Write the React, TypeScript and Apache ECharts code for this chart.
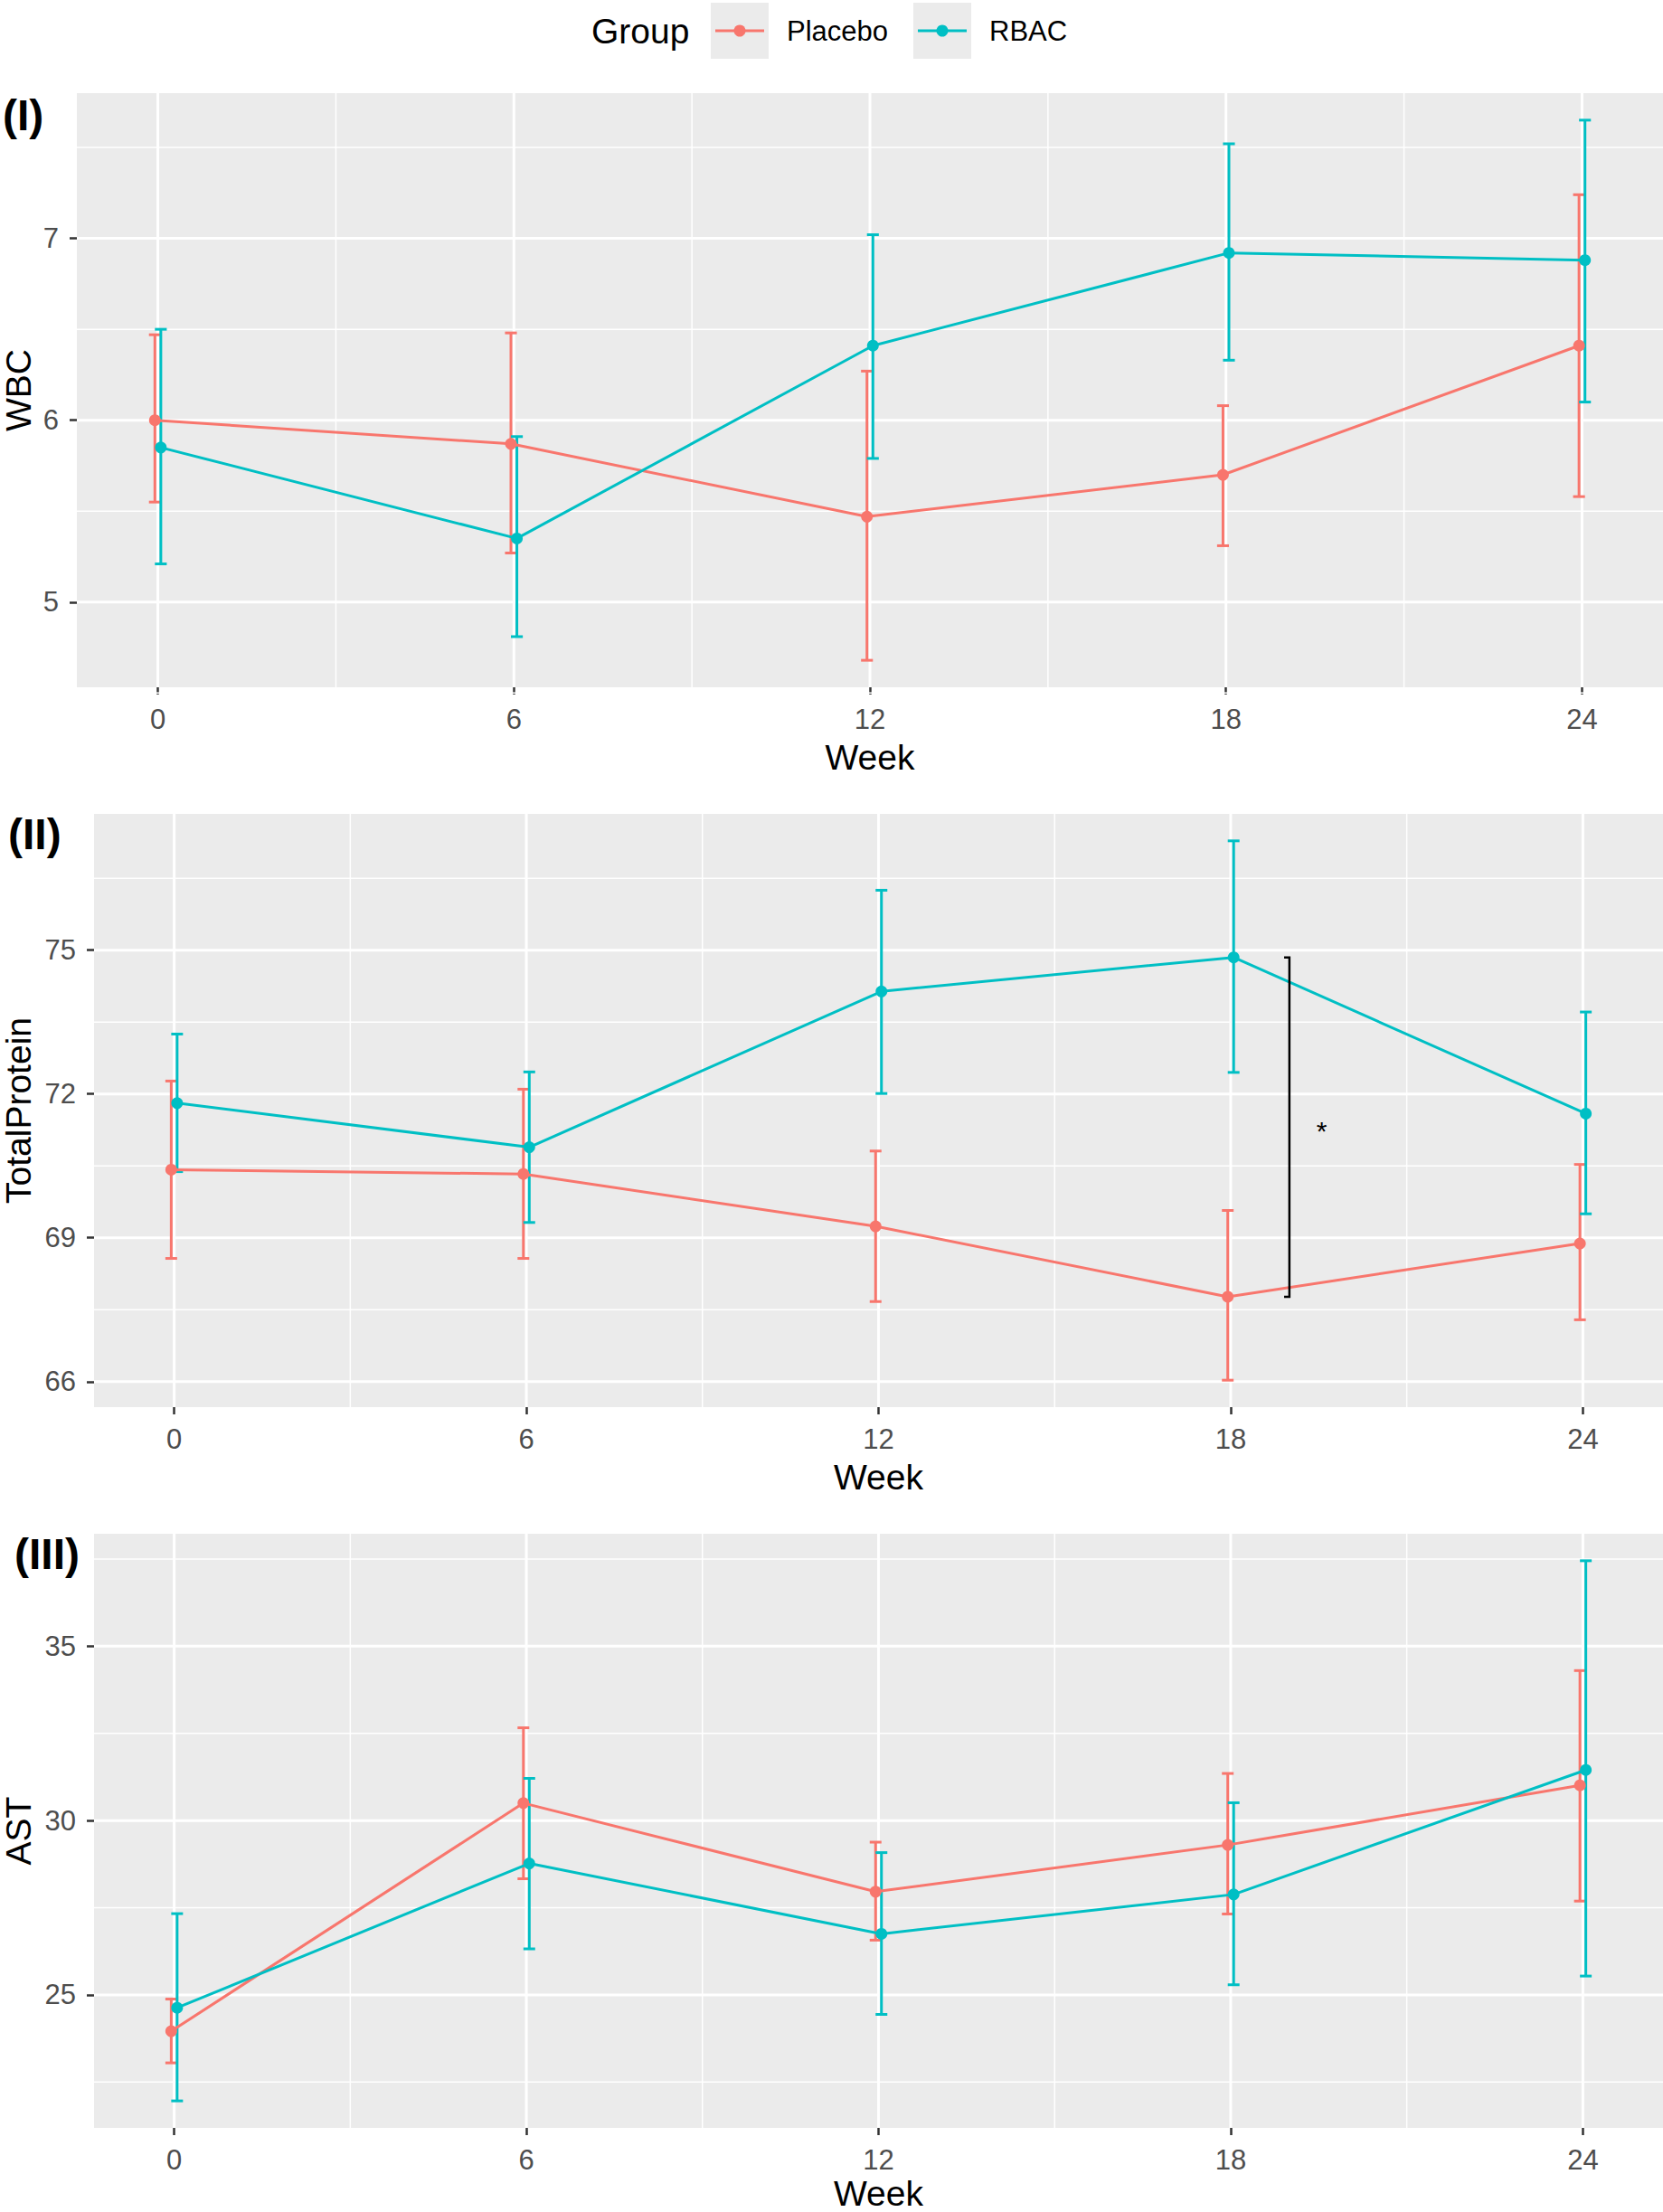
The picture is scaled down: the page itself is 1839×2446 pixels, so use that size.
import React, { useEffect, useRef } from "react";
import * as echarts from "echarts";

const FONT = "'Liberation Sans', Arial, Helvetica, sans-serif";

const weeks = [0, 6, 12, 18, 24];
const minorWeeks = [3, 9, 15, 21];
const groupNames = ["Placebo", "RBAC"];
const groupColors = ["#F8766D", "#00BFC4"];
const dodge = [-0.05, 0.05];
const capHalf = 0.1;

// Panel I: WBC
const wbcPlaceboMean = [6.0, 5.87, 5.47, 5.7, 6.41];
const wbcPlaceboLow = [5.55, 5.27, 4.68, 5.31, 5.58];
const wbcPlaceboHigh = [6.47, 6.48, 6.27, 6.08, 7.24];
const wbcRbacMean = [5.85, 5.35, 6.41, 6.92, 6.88];
const wbcRbacLow = [5.21, 4.81, 5.79, 6.33, 6.1];
const wbcRbacHigh = [6.5, 5.91, 7.02, 7.52, 7.65];
const wbcTicks = [5, 6, 7];
const wbcMinor = [4.5, 5.5, 6.5, 7.5];

// Panel II: TotalProtein
const tpPlaceboMean = [70.42, 70.33, 69.24, 67.77, 68.88];
const tpPlaceboLow = [68.57, 68.57, 67.67, 66.03, 67.29];
const tpPlaceboHigh = [72.27, 72.1, 70.81, 69.57, 70.53];
const tpRbacMean = [71.81, 70.89, 74.14, 74.85, 71.59];
const tpRbacLow = [70.38, 69.32, 72.01, 72.45, 69.5];
const tpRbacHigh = [73.25, 72.46, 76.25, 77.28, 73.71];
const tpTicks = [66, 69, 72, 75];
const tpMinor = [67.5, 70.5, 73.5, 76.5];

// Panel III: AST
const astPlaceboMean = [23.96, 30.5, 27.96, 29.3, 31.01];
const astPlaceboLow = [23.05, 28.33, 26.57, 27.32, 27.69];
const astPlaceboHigh = [24.88, 32.66, 29.38, 31.35, 34.3];
const astRbacMean = [24.63, 28.77, 26.75, 27.88, 31.45];
const astRbacLow = [21.96, 26.32, 24.44, 25.29, 25.54];
const astRbacHigh = [27.33, 31.21, 29.08, 30.51, 37.45];
const astTicks = [25, 30, 35];
const astMinor = [22.5, 27.5, 32.5, 37.5];

const panelTags = ["(I)", "(II)", "(III)"];
const yTitles = ["WBC", "TotalProtein", "AST"];
const xTitle = "Week";
const legendTitle = "Group";
const sigLabel = "*";
const sigWeekIndex = 3;

const layout = [
  { left: 85, top: 103, width: 1754, height: 657, tagX: 3, tagY: 127, xTitleGap: 77 },
  { left: 104, top: 900, width: 1735, height: 656, tagX: 9, tagY: 922, xTitleGap: 77 },
  { left: 104, top: 1696, width: 1735, height: 657, tagX: 16, tagY: 1718, xTitleGap: 72 },
];

const panels = [
  {
    series: [
      [wbcPlaceboMean, wbcPlaceboLow, wbcPlaceboHigh],
      [wbcRbacMean, wbcRbacLow, wbcRbacHigh],
    ],
    ticks: wbcTicks,
    minor: wbcMinor,
  },
  {
    series: [
      [tpPlaceboMean, tpPlaceboLow, tpPlaceboHigh],
      [tpRbacMean, tpRbacLow, tpRbacHigh],
    ],
    ticks: tpTicks,
    minor: tpMinor,
  },
  {
    series: [
      [astPlaceboMean, astPlaceboLow, astPlaceboHigh],
      [astRbacMean, astRbacLow, astRbacHigh],
    ],
    ticks: astTicks,
    minor: astMinor,
  },
];

function expandRange(lo: number, hi: number) {
  const pad = (hi - lo) * 0.05;
  return [lo - pad, hi + pad];
}

const xRange = expandRange(
  weeks[0] + dodge[0] - capHalf,
  weeks[weeks.length - 1] + dodge[1] + capHalf
);

function buildOption() {
  const grid: any[] = [];
  const xAxis: any[] = [];
  const yAxis: any[] = [];
  const series: any[] = [];
  const graphic: any[] = [];

  panels.forEach((p, pi) => {
    const L = layout[pi];
    let lo = Infinity;
    let hi = -Infinity;
    p.series.forEach((s) => {
      lo = Math.min(lo, ...s[1]);
      hi = Math.max(hi, ...s[2]);
    });
    const yRange = expandRange(lo, hi);

    grid.push({
      left: L.left,
      top: L.top,
      width: L.width,
      height: L.height,
      show: true,
      backgroundColor: "#EBEBEB",
      borderWidth: 0,
    });
    xAxis.push({
      type: "value",
      gridIndex: pi,
      position: "bottom",
      min: xRange[0],
      max: xRange[1],
      axisLine: { show: false, onZero: false },
      axisTick: {
        show: true,
        customValues: weeks,
        length: 8,
        lineStyle: { color: "#333333", width: 2.5 },
      },
      axisLabel: {
        customValues: weeks,
        fontSize: 31,
        fontFamily: FONT,
        color: "#4D4D4D",
        margin: 20,
      },
      splitLine: { show: false },
    });
    yAxis.push({
      type: "value",
      gridIndex: pi,
      position: "left",
      min: yRange[0],
      max: yRange[1],
      axisLine: { show: false, onZero: false },
      axisTick: {
        show: true,
        customValues: p.ticks,
        length: 8,
        lineStyle: { color: "#333333", width: 2.5 },
      },
      axisLabel: {
        customValues: p.ticks,
        fontSize: 31,
        fontFamily: FONT,
        color: "#4D4D4D",
        margin: 20,
      },
      splitLine: { show: false },
    });

    const xMid = (xRange[0] + xRange[1]) / 2;
    const yMid = (yRange[0] + yRange[1]) / 2;
    const gridData: number[][] = [];
    minorWeeks.forEach((w) => gridData.push([w, yMid, 0, 0]));
    p.minor.forEach((v) => gridData.push([xMid, v, 1, 0]));
    weeks.forEach((w) => gridData.push([w, yMid, 0, 1]));
    p.ticks.forEach((v) => gridData.push([xMid, v, 1, 1]));

    series.push({
      type: "custom",
      xAxisIndex: pi,
      yAxisIndex: pi,
      silent: true,
      z: 1,
      data: gridData,
      renderItem: (params: any, api: any) => {
        const cs = params.coordSys;
        const dir = api.value(2);
        const major = api.value(3);
        const pt = api.coord([api.value(0), api.value(1)]);
        const shape =
          dir === 0
            ? { x1: pt[0], y1: cs.y, x2: pt[0], y2: cs.y + cs.height }
            : { x1: cs.x, y1: pt[1], x2: cs.x + cs.width, y2: pt[1] };
        return {
          type: "line",
          shape,
          style: { stroke: "#FFFFFF", lineWidth: major ? 3 : 1.5 },
        };
      },
    });

    p.series.forEach((s, gi) => {
      const color = groupColors[gi];
      const [mean, low, high] = s;
      series.push({
        type: "custom",
        name: groupNames[gi] + " error",
        xAxisIndex: pi,
        yAxisIndex: pi,
        silent: true,
        z: 2,
        encode: { x: 0, y: [1, 2] },
        data: weeks.map((w, i) => [w + dodge[gi], low[i], high[i]]),
        renderItem: (params: any, api: any) => {
          const x = api.value(0);
          const top = api.coord([x, api.value(2)]);
          const bot = api.coord([x, api.value(1)]);
          const l = api.coord([x - capHalf, api.value(2)])[0];
          const r = api.coord([x + capHalf, api.value(2)])[0];
          const style = { stroke: color, lineWidth: 3 };
          return {
            type: "group",
            children: [
              { type: "line", shape: { x1: top[0], y1: top[1], x2: bot[0], y2: bot[1] }, style },
              { type: "line", shape: { x1: l, y1: top[1], x2: r, y2: top[1] }, style },
              { type: "line", shape: { x1: l, y1: bot[1], x2: r, y2: bot[1] }, style },
            ],
          };
        },
      });
      series.push({
        type: "line",
        name: groupNames[gi],
        xAxisIndex: pi,
        yAxisIndex: pi,
        z: 3,
        silent: true,
        data: weeks.map((w, i) => [w + dodge[gi], mean[i]]),
        symbol: "circle",
        symbolSize: 13,
        showSymbol: true,
        lineStyle: { color, width: 3 },
        itemStyle: { color },
      });
    });

    // panel tag
    graphic.push({
      type: "text",
      x: L.tagX,
      y: L.tagY,
      style: {
        text: panelTags[pi],
        fontSize: 48,
        fontWeight: "bold",
        fontFamily: FONT,
        fill: "#000000",
        align: "left",
        verticalAlign: "middle",
      },
    });
    // y title
    graphic.push({
      type: "text",
      x: 20,
      y: L.top + L.height / 2,
      rotation: Math.PI / 2,
      style: {
        text: yTitles[pi],
        fontSize: 39,
        fontFamily: FONT,
        fill: "#000000",
        align: "center",
        verticalAlign: "middle",
      },
    });
    // x title
    graphic.push({
      type: "text",
      x: L.left + L.width / 2,
      y: L.top + L.height + L.xTitleGap,
      style: {
        text: xTitle,
        fontSize: 39,
        fontFamily: FONT,
        fill: "#000000",
        align: "center",
        verticalAlign: "middle",
      },
    });
  });

  // significance bracket in panel II
  const sigX = weeks[sigWeekIndex] + 1;
  series.push({
    type: "custom",
    xAxisIndex: 1,
    yAxisIndex: 1,
    silent: true,
    z: 4,
    data: [[sigX, tpRbacMean[sigWeekIndex], tpPlaceboMean[sigWeekIndex]]],
    renderItem: (params: any, api: any) => {
      const x = api.value(0);
      const a = api.coord([x, api.value(1)]);
      const b = api.coord([x, api.value(2)]);
      const tl = api.coord([x - 0.09, api.value(1)])[0];
      const mid = api.coord([x + 0.55, (api.value(1) + api.value(2)) / 2]);
      return {
        type: "group",
        children: [
          {
            type: "polyline",
            shape: { points: [[tl, a[1]], [a[0], a[1]], [b[0], b[1]], [tl, b[1]]] },
            style: { stroke: "#000000", lineWidth: 2.5, fill: "none" },
          },
          {
            type: "text",
            style: {
              text: sigLabel,
              x: mid[0],
              y: mid[1] + 4,
              fontSize: 30,
              fontFamily: FONT,
              fill: "#000000",
              align: "center",
              verticalAlign: "middle",
            },
          },
        ],
      };
    },
  });

  // legend
  const legendY = 34;
  graphic.push({
    type: "text",
    x: 654,
    y: legendY,
    style: {
      text: legendTitle,
      fontSize: 39,
      fontFamily: FONT,
      fill: "#000000",
      align: "left",
      verticalAlign: "middle",
    },
  });
  const keyLefts = [786, 1010];
  groupNames.forEach((g, gi) => {
    const kl = keyLefts[gi];
    graphic.push({
      type: "rect",
      shape: { x: kl, y: 3, width: 64, height: 62 },
      style: { fill: "#EBEBEB" },
    });
    graphic.push({
      type: "line",
      shape: { x1: kl + 5, y1: legendY, x2: kl + 59, y2: legendY },
      style: { stroke: groupColors[gi], lineWidth: 3 },
    });
    graphic.push({
      type: "circle",
      shape: { cx: kl + 32, cy: legendY, r: 6.5 },
      style: { fill: groupColors[gi] },
    });
    graphic.push({
      type: "text",
      x: kl + 84,
      y: legendY,
      style: {
        text: g,
        fontSize: 31,
        fontFamily: FONT,
        fill: "#000000",
        align: "left",
        verticalAlign: "middle",
      },
    });
  });

  return {
    animation: false,
    backgroundColor: "#FFFFFF",
    grid,
    xAxis,
    yAxis,
    series,
    graphic,
  };
}

export default function App() {
  const ref = useRef<HTMLDivElement>(null);
  useEffect(() => {
    document.body.style.margin = "0";
    const chart = echarts.init(ref.current as HTMLDivElement, null, { renderer: "svg" });
    chart.setOption(buildOption() as any);
    return () => chart.dispose();
  }, []);
  return <div ref={ref} style={{ width: 1839, height: 2446, background: "#FFFFFF" }} />;
}
